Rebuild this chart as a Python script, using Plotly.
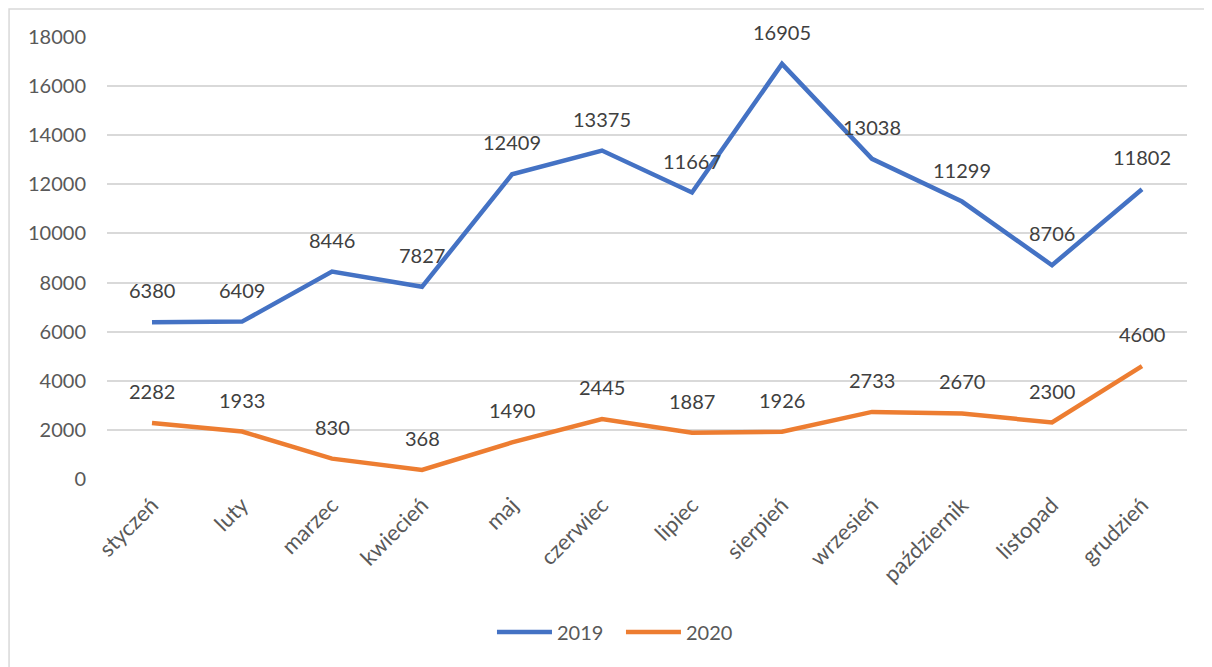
import plotly.graph_objects as go

months = ["styczeń", "luty", "marzec", "kwiecień", "maj", "czerwiec", "lipiec",
          "sierpień", "wrzesień", "październik", "listopad", "grudzień"]
v2019 = [6380, 6409, 8446, 7827, 12409, 13375, 11667, 16905, 13038, 11299, 8706, 11802]
v2020 = [2282, 1933, 830, 368, 1490, 2445, 1887, 1926, 2733, 2670, 2300, 4600]
yticks = [0, 2000, 4000, 6000, 8000, 10000, 12000, 14000, 16000, 18000]

FONT = "Lato, Carlito, Calibri, sans-serif"
TXT = "#595959"

fig = go.Figure()
fig.add_trace(go.Scatter(x=months, y=v2019, name="2019", mode="lines",
                         line=dict(color="#4472C4", width=4.5)))
fig.add_trace(go.Scatter(x=months, y=v2020, name="2020", mode="lines",
                         line=dict(color="#ED7D31", width=4.5)))

annotations = []
for series in (v2019, v2020):
    for m, v in zip(months, series):
        annotations.append(dict(x=m, y=v, xref="x", yref="y", text=str(v),
                                showarrow=False, yshift=32,
                                font=dict(family=FONT, size=20, color="#404040")))

fig.update_layout(
    width=1212, height=667,
    margin=dict(l=99, r=33, t=29, b=196),
    paper_bgcolor="white", plot_bgcolor="white",
    font=dict(family=FONT, size=20, color=TXT),
    showlegend=True,
    legend=dict(orientation="h", x=0.4759, xanchor="center", y=-0.346, yanchor="middle",
                itemwidth=55, entrywidth=59, entrywidthmode="pixels",
                font=dict(family=FONT, size=20, color=TXT)),
    annotations=annotations,
    shapes=[dict(type="rect", xref="paper", yref="paper",
                 x0=-0.0907, x1=1.2, y0=-0.6, y1=1.0633,
                 line=dict(color="#d9d9d9", width=1.5), layer="below")],
)
fig.update_xaxes(type="category", range=[-0.5, 11.5], tickangle=-45,
                 showgrid=False, showline=False, ticks="", ticklabelstandoff=8,
                 tickfont=dict(family=FONT, size=22, color=TXT))
fig.update_yaxes(range=[0, 18000], tickvals=yticks, ticktext=[str(t) for t in yticks],
                 showgrid=True, gridcolor="#d9d9d9", gridwidth=1.5,
                 zeroline=False, showline=False, ticks="", ticklabelstandoff=20,
                 tickfont=dict(family=FONT, size=20, color=TXT))

fig.write_html("out.html")
